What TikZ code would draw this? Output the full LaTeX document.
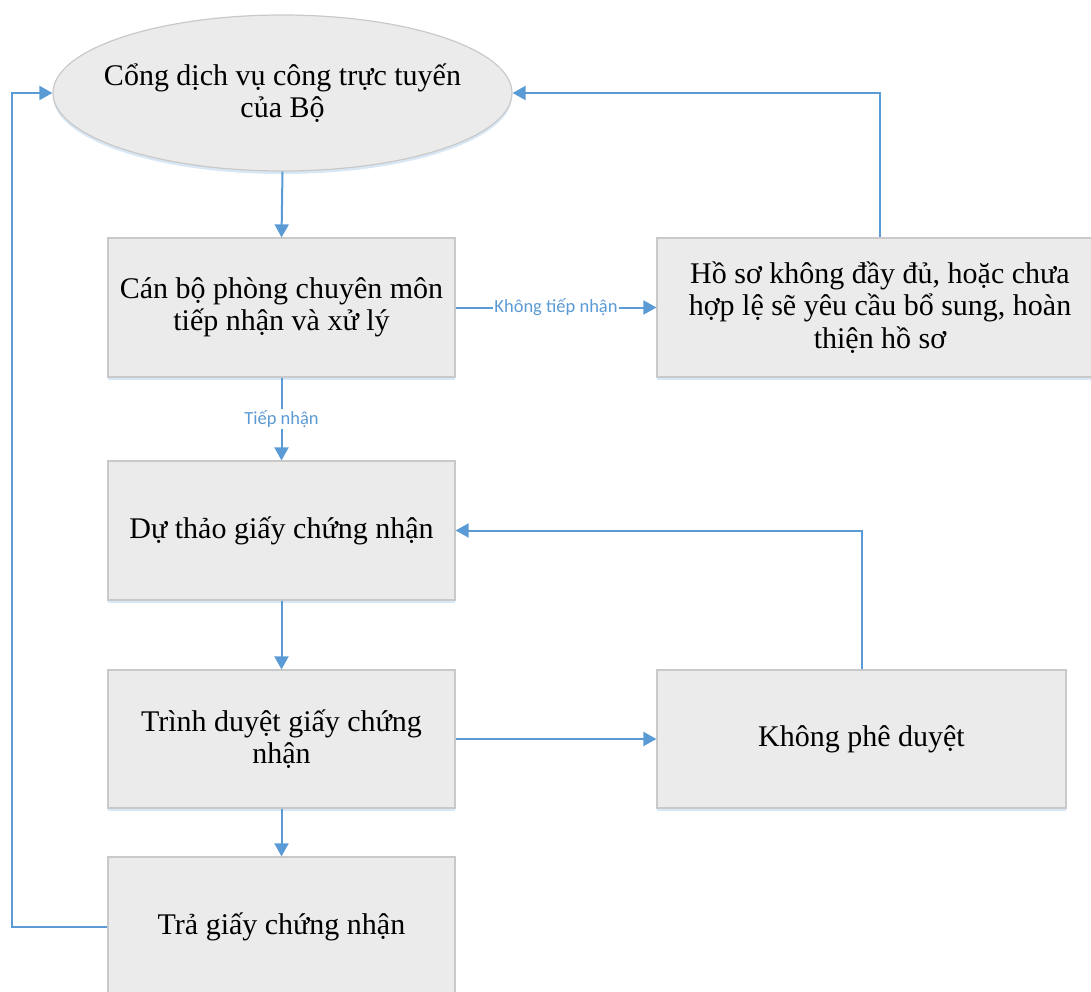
\documentclass[tikz,border=0pt]{standalone}
\usepackage{fontspec}
\setmainfont{Liberation Serif}
\newfontfamily\lblfont{Carlito}
\usetikzlibrary{arrows.meta,shadows,shapes.geometric}
\definecolor{boxfill}{HTML}{EBEBEB}
\definecolor{boxborder}{HTML}{C9C9C9}
\definecolor{arrowblue}{HTML}{5B9BD5}
\definecolor{shadowblue}{HTML}{BDD7EE}
\tikzset{
  shd/.style={drop shadow={shadow xshift=0pt, shadow yshift=-3pt, fill=shadowblue, opacity=0.6}},
  box/.style={draw=boxborder, fill=boxfill, line width=1.2pt, minimum width=347pt, minimum height=139pt,
    align=center, inner sep=0pt, font=\fontsize{30}{32.5}\selectfont, shd},
  oval/.style={ellipse, draw=boxborder, fill=boxfill, line width=1.2pt, minimum width=459pt, minimum height=156pt,
    align=center, inner sep=0pt, font=\fontsize{30}{32}\selectfont, shd},
  arr/.style={draw=arrowblue, line width=2pt, -{Triangle[length=13pt,width=14pt]}},
  lbl/.style={font=\lblfont\fontsize{18.5}{20}\selectfont, text=arrowblue, fill=white, inner sep=1pt}
}
\begin{document}
\begin{tikzpicture}[x=1pt,y=-1pt]
\useasboundingbox (0,0) rectangle (1091,992);
\node[oval] (ell) at (282.5,93) {\makebox[0pt]{Cổng dịch vụ công trực tuyến}\\\makebox[0pt]{của Bộ}};
\node[box] (b1) at (281.5,307.5) {Cán bộ phòng chuyên môn\\tiếp nhận và xử lý};
\node[box, minimum width=446pt] (r1) at (880,307.5) {Hồ sơ không đầy đủ, hoặc chưa\\hợp lệ sẽ yêu cầu bổ sung, hoàn\\thiện hồ sơ};
\node[box] (b2) at (281.5,530.5) {Dự thảo giấy chứng nhận};
\node[box, minimum height=138pt] (b3) at (281.5,739) {Trình duyệt giấy chứng\\nhận};
\node[box, minimum width=409pt, minimum height=138pt] (k) at (861.5,739) {Không phê duyệt};
\node[box] (b4) at (281.5,926.5) {Trả giấy chứng nhận};
\coordinate (lc) at (12,926.5);
\draw[arr] (ell.south) -- (b1.north);
\draw[arr] (b1.south) -- node[lbl] {Tiếp nhận} (b2.north);
\draw[arr] (b1.east) -- node[lbl] {Không tiếp nhận} (r1.west);
\draw[arr] (r1.north) |- (ell.east);
\draw[arr] (b2.south) -- (b3.north);
\draw[arr] (b3.south) -- (b4.north);
\draw[arr] (b3.east) -- (k.west);
\draw[arr] (k.north) |- (b2.east);
\draw[arr] (b4.west) -- (lc) |- (ell.west);
\end{tikzpicture}
\end{document}
